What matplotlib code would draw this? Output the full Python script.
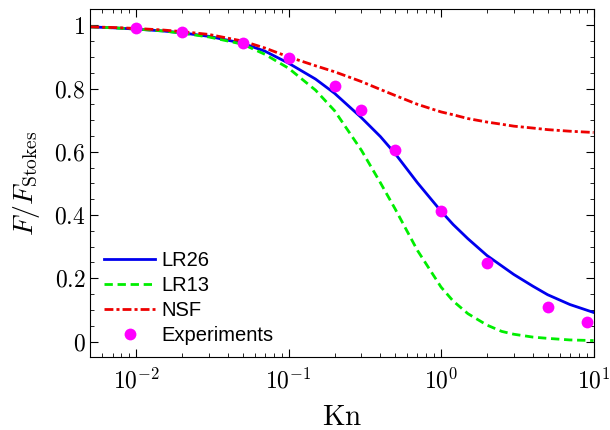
import numpy as np
import matplotlib
matplotlib.use("Agg")
import matplotlib.pyplot as plt
from matplotlib.ticker import LogLocator, MultipleLocator, FixedLocator, FixedFormatter, NullFormatter

plt.rcParams['mathtext.fontset'] = 'cm'
plt.rcParams['font.family'] = ['Liberation Sans', 'DejaVu Sans']

# Data
kn_curve = [0.005, 0.007, 0.01, 0.015, 0.02, 0.03, 0.05, 0.07, 0.1, 0.15, 0.2, 0.3,
            0.4, 0.5, 0.7, 1.0, 1.2, 1.5, 2.0, 2.5, 3.0, 4.0, 5.0, 7.0, 10.0]
lr26 = [0.995, 0.992, 0.988, 0.982, 0.976, 0.965, 0.943, 0.918, 0.880, 0.830, 0.785, 0.708,
        0.648, 0.594, 0.502, 0.412, 0.370, 0.325, 0.272, 0.239, 0.212, 0.175, 0.148, 0.117, 0.092]
lr13 = [0.995, 0.992, 0.988, 0.982, 0.975, 0.963, 0.940, 0.908, 0.864, 0.795, 0.730, 0.605,
        0.502, 0.419, 0.288, 0.172, 0.128, 0.088, 0.052, 0.032, 0.023, 0.014, 0.010, 0.005, 0.003]
nsf = [0.995, 0.993, 0.990, 0.985, 0.980, 0.971, 0.950, 0.928, 0.900, 0.872, 0.853, 0.822,
       0.797, 0.778, 0.750, 0.726, 0.717, 0.705, 0.694, 0.687, 0.681, 0.675, 0.670, 0.665, 0.661]
kn_exp = [0.01, 0.02, 0.05, 0.1, 0.2, 0.3, 0.5, 1.0, 2.0, 5.0, 9.0]
f_exp = [0.990, 0.978, 0.945, 0.895, 0.808, 0.731, 0.605, 0.412, 0.247, 0.110, 0.062]

xticks = [0.01, 0.1, 1, 10]
xticklabels = [r'$10^{-2}$', r'$10^{-1}$', r'$10^{0}$', r'$10^{1}$']
yticks = [0, 0.2, 0.4, 0.6, 0.8, 1.0]
yticklabels = [r'$0$', r'$0.2$', r'$0.4$', r'$0.6$', r'$0.8$', r'$1$']

fig = plt.figure(figsize=(6.1, 4.3), dpi=100)
ax = fig.add_axes([0.148, 0.169, 0.825, 0.809])

ax.plot(kn_curve, lr26, color='#0000ee', lw=2.0, label='LR26')
ax.plot(kn_curve, lr13, color='#00ee00', lw=2.0, ls=(0, (3, 1.7)), label='LR13')
ax.plot(kn_curve, nsf, color='#ee0000', lw=2.0, ls=(0, (3.2, 1.1, 1.1, 1.1)), label='NSF')
ax.plot(kn_exp, f_exp, 'o', color='#ff00ff', ms=8.5, mec='none', label='Experiments')

ax.set_xscale('log')
ax.set_xlim(0.005, 10)
ax.set_ylim(-0.05, 1.05)

ax.xaxis.set_major_locator(FixedLocator(xticks))
ax.xaxis.set_major_formatter(FixedFormatter(xticklabels))
ax.xaxis.set_minor_locator(LogLocator(base=10, subs=np.arange(2, 10)))
ax.xaxis.set_minor_formatter(NullFormatter())
ax.yaxis.set_major_locator(FixedLocator(yticks))
ax.yaxis.set_major_formatter(FixedFormatter(yticklabels))
ax.yaxis.set_minor_locator(MultipleLocator(0.05))

ax.tick_params(which='both', direction='in', top=True, right=True, labelsize=17)
ax.tick_params(which='major', length=6, width=0.8)
ax.tick_params(which='minor', length=3, width=0.6)
ax.tick_params(axis='x', pad=8)

ax.set_xlabel(r'$\mathrm{Kn}$', fontsize=21, labelpad=7)
ax.set_ylabel(r'$F/F_{\rm Stokes}$', fontsize=20, labelpad=9)

leg = ax.legend(loc='upper left', bbox_to_anchor=(0.0, 0.347), frameon=False,
                fontsize=14.5, handlelength=2.5, handletextpad=0.35, labelspacing=0.3,
                borderaxespad=0.3)

fig.savefig('out.png', dpi=100)
